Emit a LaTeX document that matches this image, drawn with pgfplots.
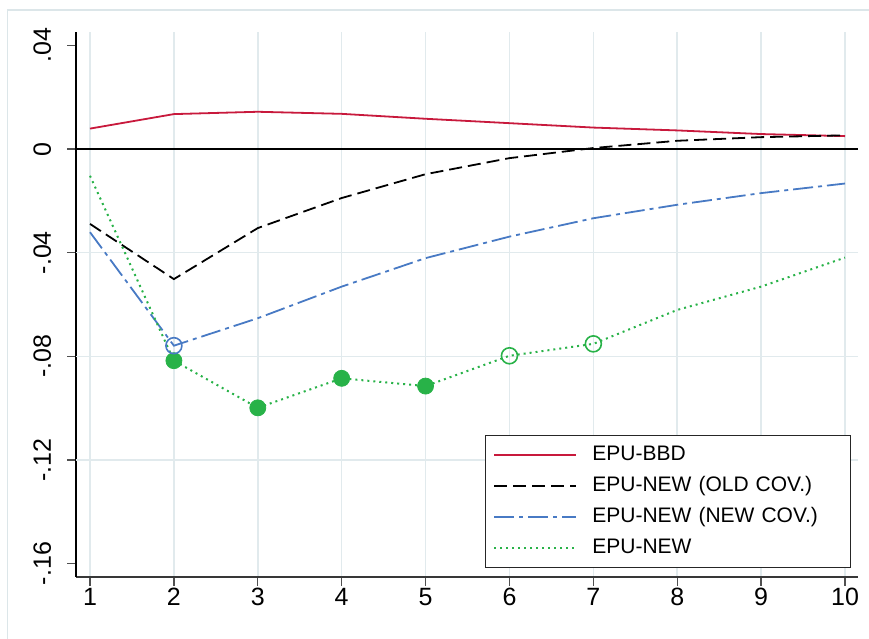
\documentclass[border=0pt]{standalone}
\usepackage{fontspec}
\setmainfont{Liberation Sans}
\usepackage{pgfplots}
\pgfplotsset{compat=1.18}

\definecolor{epured}{RGB}{200,25,60}
\definecolor{epublue}{RGB}{72,122,196}
\definecolor{epugreen}{RGB}{40,178,72}
\definecolor{gridc}{RGB}{225,234,237}
\definecolor{framec}{RGB}{220,230,233}
\definecolor{tickc}{RGB}{80,80,80}

\begin{document}
\begin{tikzpicture}
\begin{axis}[
  name=ax,
  scale only axis, width=391pt, height=272.5pt,
  xmin=0.833, xmax=10.155, ymin=-0.1652, ymax=0.0452,
  axis x line*=bottom, axis y line*=left,
  axis line style={line width=0.8pt, -},
  x axis line style={tickc!70!black},
  y axis line style={black},
  xtick={1,2,...,10},
  ytick={-0.16,-0.12,-0.08,-0.04,0,0.04},
  yticklabels={-.16,-.12,-.08,-.04,0,.04},
  tick align=outside, major tick length=4.5pt,
  tick style={tickc, line width=0.7pt},
  xmajorgrids, grid style={gridc, line width=0.75pt},
  /pgf/number format/assume math mode=true,
  tick label style={font=\fontsize{12.5}{14}\selectfont},
  yticklabel style={rotate=90, anchor=base, inner sep=0pt, yshift=8pt},
  xticklabel style={inner sep=0pt, anchor=north, yshift=-1pt},
  legend cell align=left,
  legend image code/.code={\draw[#1] (0pt,0pt) -- (41pt,0pt);},
  legend style={at={(0.991,0.0165)}, anchor=south east,
    draw=black!85, line width=0.6pt, fill=white,
    inner xsep=4pt, inner ysep=4.75pt, row sep=5.5pt, column sep=7.5pt,
    font=\fontsize{10.5}{12}\selectfont,
    nodes={inner sep=0pt, text height=8pt, text depth=2pt, text width=125pt, align=left}},
]
% horizontal grid lines (Stata leaves out the outermost ticks)
\draw[gridc, line width=0.75pt] (axis cs:0.833,-0.12) -- (axis cs:10.155,-0.12);
\draw[gridc, line width=0.75pt] (axis cs:0.833,-0.08) -- (axis cs:10.155,-0.08);
\draw[gridc, line width=0.75pt] (axis cs:0.833,-0.04) -- (axis cs:10.155,-0.04);
\draw[black, line width=0.8pt] (axis cs:0.833,0) -- (axis cs:10.155,0);

\addplot[epured, line width=0.9pt] coordinates {
  (1,0.0079)(2,0.0135)(3,0.0144)(4,0.0136)(5,0.0117)
  (6,0.0100)(7,0.0083)(8,0.0072)(9,0.0058)(10,0.0050)};
\addlegendentry{EPU-BBD}
\addplot[black, line width=0.9pt, dash pattern=on 6.5pt off 3pt] coordinates {
  (1,-0.0289)(2,-0.0502)(3,-0.0305)(4,-0.0189)(5,-0.0097)
  (6,-0.0035)(7,0.0004)(8,0.0032)(9,0.0046)(10,0.0053)};
\addlegendentry{EPU-NEW (OLD COV.)}
\addplot[epublue, line width=0.9pt, dash pattern=on 10pt off 2.5pt on 2pt off 2.5pt] coordinates {
  (1,-0.0321)(2,-0.0759)(3,-0.0653)(4,-0.0531)(5,-0.0421)
  (6,-0.0338)(7,-0.0267)(8,-0.0215)(9,-0.0170)(10,-0.0133)};
\addlegendentry{EPU-NEW (NEW COV.)}
\addplot[epugreen, line width=1pt, dash pattern=on 1pt off 2pt] coordinates {
  (1,-0.0103)(2,-0.0817)(3,-0.0999)(4,-0.0885)(5,-0.0915)
  (6,-0.0798)(7,-0.0752)(8,-0.0621)(9,-0.0531)(10,-0.0419)};
\addlegendentry{EPU-NEW}

\addplot[only marks, mark=*, mark size=4pt, epugreen, forget plot] coordinates {
  (2,-0.0817)(3,-0.0999)(4,-0.0885)(5,-0.0915)};
\addplot[only marks, mark=o, mark size=4pt, epugreen, line width=0.8pt, forget plot] coordinates {
  (6,-0.0798)(7,-0.0752)};
\addplot[only marks, mark=o, mark size=4pt, epublue, line width=0.8pt, forget plot] coordinates {
  (2,-0.0759)};
\end{axis}
\draw[framec, line width=0.75pt] ([xshift=-34.35pt,yshift=-40pt]ax.south west) |- ([xshift=20pt,yshift=11pt]ax.north east);
\pgfresetboundingbox
\useasboundingbox ([xshift=-38pt,yshift=-31pt]ax.south west) rectangle ([xshift=5.5pt,yshift=16pt]ax.north east);
\end{tikzpicture}
\end{document}
